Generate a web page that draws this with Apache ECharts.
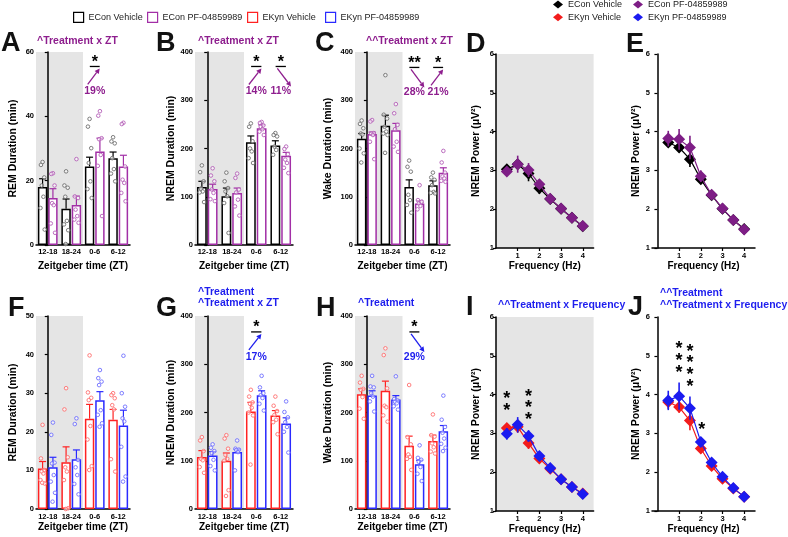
<!DOCTYPE html>
<html><head><meta charset="utf-8">
<script src="https://cdn.jsdelivr.net/npm/echarts@6/dist/echarts.min.js"></script>
<style>html,body{margin:0;padding:0;background:#fff}#c{width:788px;height:537px}</style>
</head><body><div id="c"></div>
<script>
// ---------------- DATA ----------------
const zt = ['12-18', '18-24', '0-6', '6-12'];
const darkBins = [0, 1];           // ZT bins in the dark phase (shaded)
const freq = [0.5, 1, 1.5, 2, 2.5, 3, 3.5, 4];

// A: REM, ECon
const remEConVehMean = [18.0, 11.3, 24.4, 27.0];
const remEConVehSem  = [2.6, 3.0, 2.9, 1.9];
const remEConPFMean  = [14.6, 12.4, 29.1, 24.4];
const remEConPFSem   = [2.9, 2.8, 4.1, 3.5];
const remEConVehPts  = [[25.8, 24.9, 21.0, 18.5, 15.0, 11.5, 4.8], [22.9, 18.5, 17.8, 15.0, 7.5, 6.4, 4.6, 0.3], [39.2, 36.8, 30.1, 25.5, 19.8, 17.4, 14.6], [33.5, 32.2, 31.6, 27.0, 23.6, 22.2, 19.8]];
const remEConPFPts   = [[22.3, 22.1, 18.5, 13.0, 12.4, 6.7, 3.8], [26.7, 15.1, 14.6, 11.0, 9.0, 7.9, 6.9], [41.6, 40.2, 33.2, 32.9, 28.0, 24.6, 9.0], [38.0, 37.6, 24.4, 20.3, 19.3, 16.2, 13.6]];
const remEConAnnots  = [{ bin: 2, y: 55.5, dir: 1, stars: '*', pct: '19%' }];

// B: NREM, ECon
const nremEConVehMean = [120, 101, 213, 206];
const nremEConVehSem  = [12, 17, 13, 10];
const nremEConPFMean  = [116, 108, 242, 185];
const nremEConPFSem   = [10, 10, 7, 7];
const nremEConVehPts  = [[165, 151, 132, 117, 111, 109, 89], [150, 132, 118, 111, 101, 87, 25], [252, 245, 215, 200, 194, 180, 170], [232, 228, 225, 204, 197, 187]];
const nremEConPFPts   = [[159, 144, 132, 115, 108, 95, 91], [148, 139, 115, 109, 94, 80, 61], [255, 253, 248, 245, 240, 235, 228], [204, 199, 188, 177, 170, 160, 149]];
const nremEConAnnots  = [{ bin: 2, y: 370, dir: 1, stars: '*', pct: '14%' }, { bin: 3, y: 370, dir: -1, stars: '*', pct: '11%' }];

// C: Wake, ECon
const wakeEConVehMean = [220, 247, 120, 124];
const wakeEConVehSem  = [11, 22, 15, 9];
const wakeEConPFMean  = [230, 238, 86, 150];
const wakeEConPFSem   = [4, 14, 6, 10];
const wakeEConVehPts  = [[258, 251, 242, 231, 229, 200, 190, 171], [352, 270, 262, 245, 235, 231, 228, 191], [175, 162, 152, 104, 93, 83, 67], [150, 140, 135, 124, 110, 108, 107]];
const wakeEConPFPts   = [[259, 256, 232, 231, 228, 214, 178], [292, 273, 249, 240, 214, 204, 193], [124, 93, 88, 86, 81, 74, 90], [195, 171, 150, 142, 138, 133, 131]];
const wakeEConAnnots  = [{ bin: 2, y: 368, dir: -1, stars: '**', pct: '28%' }, { bin: 3, y: 368, dir: 1, stars: '*', pct: '21%' }];

// F: REM, EKyn
const remEKynVehMean = [10.5, 12.1, 23.4, 23.1];
const remEKynVehSem  = [1.8, 4.0, 3.7, 2.7];
const remEKynPFMean  = [10.8, 12.9, 28.2, 21.6];
const remEKynPFSem   = [2.6, 2.4, 2.2, 4.0];
const remEKynVehPts  = [[21.8, 13.1, 10.1, 9.7, 9.2, 7.5, 6.6, 6.8], [31.3, 25.8, 13.4, 10.8, 9.7, 7.5, 0.2, 0], [39.8, 30.2, 28.8, 28.2, 21.5, 18.0, 11.1, 10.1], [30.0, 29.5, 28.7, 26.9, 25.8, 12.9, 9.7]];
const remEKynPFPts   = [[22.4, 19.2, 12.0, 11.8, 8.8, 7.1, 4.2, 1.9], [23.5, 22.0, 12.7, 10.8, 8.8, 6.5, 3.8], [36.0, 33.9, 33.0, 32.1, 25.6, 24.4, 22.2, 21.3], [39.7, 30.0, 26.5, 23.5, 22.7, 16.1, 8.4, 7.1]];
const remEKynAnnots  = [];

// G: NREM, EKyn
const nremEKynVehMean = [108, 100, 202, 194];
const nremEKynVehSem  = [13, 16, 19, 10];
const nremEKynPFMean  = [111, 118, 236, 177];
const nremEKynPFSem   = [8, 6, 9, 12];
const nremEKynVehPts  = [[149, 142, 120, 104, 101, 87, 75], [153, 146, 125, 112, 104, 100, 39, 27], [247, 233, 221, 218, 210, 200, 194, 92], [233, 214, 203, 195, 185, 180, 155]];
const nremEKynPFPts   = [[134, 127, 120, 116, 102, 89, 80], [142, 125, 123, 122, 118, 80], [276, 252, 240, 236, 230, 218, 204], [223, 201, 190, 180, 170, 160, 117]];
const nremEKynAnnots  = [{ bin: 2, y: 367, dir: 1, stars: '*', pct: '17%' }];

// H: Wake, EKyn
const wakeEKynVehMean = [238, 245, 131, 141];
const wakeEKynVehSem  = [11, 20, 20, 12];
const wakeEKynPFMean  = [235, 227, 93, 161];
const wakeEKynPFSem   = [10, 8, 8, 12];
const wakeEKynVehPts  = [[276, 262, 249, 247, 232, 208, 187], [333, 319, 250, 214, 211, 194, 181], [257, 149, 134, 113, 108, 104, 81], [196, 153, 150, 136, 128, 119, 115]];
const wakeEKynPFPts   = [[276, 254, 252, 240, 233, 223, 202], [275, 228, 225, 222, 219, 213, 206], [132, 106, 102, 98, 87, 73, 58], [235, 185, 170, 158, 146, 135, 127, 120]];
const wakeEKynAnnots  = [{ bin: 2, y: 367, dir: -1, stars: '*', pct: '29%' }];

// D/E/I/J: NREM power spectra
const darkEConVeh    = [3.03, 3.16, 2.92, 2.54, 2.26, 2.01, 1.78, 1.56];
const darkEConVehSem = [0.08, 0.10, 0.20, 0.15, 0.08, 0.06, 0.05, 0.05];
const darkEConPF     = [2.97, 3.16, 3.01, 2.64, 2.27, 2.02, 1.78, 1.57];
const darkEConPFSem  = [0.10, 0.22, 0.18, 0.12, 0.08, 0.06, 0.05, 0.05];
const lightEConVeh    = [3.72, 3.59, 3.29, 2.77, 2.36, 2.01, 1.72, 1.49];
const lightEConVehSem = [0.10, 0.12, 0.20, 0.12, 0.08, 0.06, 0.05, 0.05];
const lightEConPF     = [3.82, 3.80, 3.59, 2.85, 2.37, 2.02, 1.72, 1.48];
const lightEConPFSem  = [0.20, 0.27, 0.30, 0.15, 0.08, 0.06, 0.05, 0.05];
const darkEKynVeh    = [3.14, 3.17, 2.75, 2.35, 2.09, 1.82, 1.62, 1.45];
const darkEKynVehSem = [0.10, 0.15, 0.15, 0.10, 0.08, 0.06, 0.05, 0.05];
const darkEKynPF     = [2.99, 3.22, 2.93, 2.42, 2.11, 1.82, 1.62, 1.44];
const darkEKynPFSem  = [0.15, 0.20, 0.15, 0.10, 0.08, 0.06, 0.05, 0.05];
const lightEKynVeh    = [3.81, 3.68, 3.33, 2.61, 2.16, 1.83, 1.58, 1.37];
const lightEKynVehSem = [0.18, 0.15, 0.25, 0.12, 0.08, 0.06, 0.05, 0.05];
const lightEKynPF     = [3.85, 3.96, 3.65, 2.78, 2.25, 1.88, 1.59, 1.37];
const lightEKynPFSem  = [0.25, 0.35, 0.30, 0.12, 0.08, 0.07, 0.05, 0.05];
const darkEKynStars  = [[0.5, 3.98], [0.5, 3.68], [1.5, 4.04], [1.5, 3.75], [1.5, 3.46]];
const lightEKynStars = [[1, 5.27], [1, 4.97], [1, 4.67], [1.5, 5.21], [1.5, 4.91], [1.5, 4.61], [1.5, 4.31], [2.05, 3.2]];

// ---------------- STYLE ----------------
const FONT = '"Liberation Sans", Arial, Helvetica, sans-serif';
const COL = {
  econVeh: '#000000', econPF: '#A22FA6', ekynVeh: '#FF2222', ekynPF: '#2A2AFF',
  ptEconVeh: '#707070', ptEconPF: '#B560B8', ptEkynVeh: '#FF7070', ptEkynPF: '#7070FF',
  txtPurple: '#8E1E8E', txtBlue: '#1E1EEE',
  mkEconVeh: '#000000', mkEconPF: '#7E1E86', mkEkynVeh: '#F21C1C', mkEkynPF: '#1B1BF0',
  shade: '#E5E5E5'
};
const JITTER = [0, -0.07, 0.07, -0.035, 0.035, -0.09, 0.09, -0.015];

const grids = [], xAxes = [], yAxes = [], series = [];

function axisCommon() {
  return {
    axisLine: { show: true, lineStyle: { color: '#000', width: 1.5 } },
    splitLine: { show: false },
    nameTextStyle: { fontFamily: FONT, fontWeight: 'bold', fontSize: 10.5, color: '#000' },
    axisLabel: { fontFamily: FONT, fontWeight: 'bold', fontSize: 7.5, color: '#000' }
  };
}

function barPanel(p) {
  const gi = grids.length;
  grids.push({ left: p.left, top: p.top, width: p.width, height: p.height });
  const xc = xAxes.length;
  xAxes.push(Object.assign(axisCommon(), {
    type: 'category', gridIndex: gi, data: zt, axisTick: { show: false },
    name: 'Zeitgeber time (ZT)', nameLocation: 'middle', nameGap: p.xGap,
    nameTextStyle: { fontFamily: FONT, fontWeight: 'bold', fontSize: 10, color: '#000' },
    axisLabel: { fontFamily: FONT, fontWeight: 'bold', fontSize: 7.5, color: '#000', margin: p.xLabMargin, interval: 0 }
  }));
  const xv = xAxes.length;
  xAxes.push({ type: 'value', gridIndex: gi, min: -0.5, max: 3.5, show: false });
  const yi = yAxes.length;
  yAxes.push(Object.assign(axisCommon(), {
    type: 'value', gridIndex: gi, min: 0, max: p.ymax, interval: p.yint,
    name: p.yname, nameLocation: 'middle', nameGap: p.nameGap,
    axisTick: { show: true, length: 3, lineStyle: { color: '#000', width: 1.2 } },
    axisLabel: { fontFamily: FONT, fontWeight: 'bold', fontSize: 7.5, color: '#000', margin: 2 }
  }));
  // dark phase shading
  series.push({
    type: 'custom', xAxisIndex: xv, yAxisIndex: yi, z: 0, silent: true,
    data: [[darkBins[0] - 0.5, darkBins[darkBins.length - 1] + 0.5, p.ymax]],
    renderItem: (params, api) => {
      const a = api.coord([api.value(0), api.value(2)]);
      const b = api.coord([api.value(1), 0]);
      return { type: 'rect', shape: { x: a[0], y: a[1], width: b[0] - a[0], height: b[1] - a[1] }, style: { fill: COL.shade } };
    }
  });
  p.groups.forEach((g, s) => {
    series.push({
      type: 'bar', name: g.name, xAxisIndex: xc, yAxisIndex: yi, data: g.mean, z: 2, silent: true,
      barCategoryGap: '16%', barGap: '10%',
      itemStyle: { color: '#ffffff', borderColor: g.color, borderWidth: 1.5 }
    });
  });
  p.groups.forEach((g, s) => {
    const off = s === 0 ? -0.22 : 0.22;
    // error bars (SEM, upward)
    series.push({
      type: 'custom', xAxisIndex: xv, yAxisIndex: yi, z: 3, silent: true,
      data: g.mean.map((m, i) => [i + off, m, g.sem[i]]),
      renderItem: (params, api) => {
        const x = api.value(0), m = api.value(1), e = api.value(2);
        const p0 = api.coord([x, m]), p1 = api.coord([x, m + e]);
        return { type: 'group', children: [
          { type: 'line', shape: { x1: p0[0], y1: p0[1], x2: p1[0], y2: p1[1] }, style: { stroke: g.color, lineWidth: 1.2 } },
          { type: 'line', shape: { x1: p1[0] - 3.5, y1: p1[1], x2: p1[0] + 3.5, y2: p1[1] }, style: { stroke: g.color, lineWidth: 1.2 } }
        ] };
      }
    });
    // individual animals
    const pts = [];
    g.pts.forEach((arr, i) => arr.forEach((v, j) => pts.push([i + off + JITTER[j % JITTER.length], v])));
    series.push({
      type: 'scatter', xAxisIndex: xv, yAxisIndex: yi, z: 4, silent: true, data: pts,
      symbol: 'circle', symbolSize: 3.6,
      itemStyle: { color: 'rgba(255,255,255,0.6)', borderColor: g.pt, borderWidth: 1, opacity: 0.9 }
    });
  });
  // post-hoc annotations
  if (p.annots.length) {
    series.push({
      type: 'custom', xAxisIndex: xv, yAxisIndex: yi, z: 5, silent: true,
      data: p.annots.map(a => [a.bin, a.y]),
      renderItem: (params, api) => {
        const a = p.annots[params.dataIndex];
        const c = api.coord([api.value(0), api.value(1)]);
        const W = api.size([1, 0])[0];
        const y = c[1];
        const xl = c[0] - 0.21 * W, xr = c[0] + 0.21 * W;
        let ax1, ay1, ax2, ay2;
        if (a.dir > 0) { ax1 = c[0] - 0.3 * W; ay1 = y + 18; ax2 = xr; ay2 = y + 2; }
        else { ax1 = c[0] - 0.14 * W; ay1 = y + 2; ax2 = c[0] + 0.42 * W; ay2 = y + 20; }
        const ang = Math.atan2(ay2 - ay1, ax2 - ax1);
        const hl = 5, hw = 2.6;
        const bx = ax2 - hl * Math.cos(ang), by = ay2 - hl * Math.sin(ang);
        const head = [[ax2, ay2], [bx - hw * Math.sin(ang), by + hw * Math.cos(ang)], [bx + hw * Math.sin(ang), by - hw * Math.cos(ang)]];
        return { type: 'group', children: [
          { type: 'line', shape: { x1: xl, y1: y, x2: xr, y2: y }, style: { stroke: '#000', lineWidth: 1.3 } },
          { type: 'line', shape: { x1: ax1, y1: ay1, x2: bx, y2: by }, style: { stroke: p.annColor, lineWidth: 1.3 } },
          { type: 'polygon', shape: { points: head }, style: { fill: p.annColor } },
          { type: 'text', x: c[0], y: y - 4, style: { text: a.stars, align: 'center', verticalAlign: 'middle', fill: '#000', font: 'bold 16px ' + FONT } },
          { type: 'text', x: c[0], y: y + 25, style: { text: a.pct, align: 'center', verticalAlign: 'middle', fill: p.annColor, font: 'bold 10.5px ' + FONT } }
        ] };
      }
    });
  }
}

function linePanel(p) {
  const gi = grids.length;
  grids.push({ left: p.left, top: p.top, width: p.width, height: p.height,
    show: p.shade, backgroundColor: p.shade ? COL.shade : 'transparent', borderWidth: 0 });
  const xi = xAxes.length;
  xAxes.push(Object.assign(axisCommon(), {
    type: 'value', gridIndex: gi, min: p.xmin, max: 4.5,
    name: 'Frequency (Hz)', nameLocation: 'middle', nameGap: p.xGap,
    nameTextStyle: { fontFamily: FONT, fontWeight: 'bold', fontSize: 10, color: '#000' },
    axisTick: { show: true, length: 3, customValues: [1, 2, 3, 4], lineStyle: { color: '#000', width: 1.2 } },
    axisLabel: { fontFamily: FONT, fontWeight: 'bold', fontSize: 7.5, color: '#000', margin: 4, customValues: [1, 2, 3, 4] }
  }));
  const yi = yAxes.length;
  yAxes.push(Object.assign(axisCommon(), {
    type: 'value', gridIndex: gi, min: 1, max: 6, interval: 1,
    name: 'NREM Power (\u03bcV\u00b2)', nameLocation: 'middle', nameGap: p.nameGap,
    axisTick: { show: true, length: 3, lineStyle: { color: '#000', width: 1.2 } },
    axisLabel: { fontFamily: FONT, fontWeight: 'bold', fontSize: 7.5, color: '#000', margin: 2 }
  }));
  p.groups.forEach((g, s) => {
    series.push({
      type: 'custom', xAxisIndex: xi, yAxisIndex: yi, z: 2 + s * 2, silent: true,
      data: freq.map((f, i) => [f, g.mean[i], g.sem[i]]),
      renderItem: (params, api) => {
        const x = api.value(0), m = api.value(1), e = api.value(2);
        const a = api.coord([x, m - e]), b = api.coord([x, m + e]);
        return { type: 'line', shape: { x1: a[0], y1: a[1], x2: b[0], y2: b[1] }, style: { stroke: g.color, lineWidth: 1.6 } };
      }
    });
    series.push({
      type: 'line', name: g.name, xAxisIndex: xi, yAxisIndex: yi, z: 3 + s * 2, silent: true,
      data: freq.map((f, i) => [f, g.mean[i]]),
      symbol: 'diamond', symbolSize: 12, showSymbol: true,
      lineStyle: { color: g.color, width: 1.2 }, itemStyle: { color: g.color }
    });
  });
  if (p.stars && p.stars.length) {
    series.push({
      type: 'custom', xAxisIndex: xi, yAxisIndex: yi, z: 8, silent: true, data: p.stars,
      renderItem: (params, api) => {
        const c = api.coord([api.value(0), api.value(1)]);
        return { type: 'text', x: c[0], y: c[1] + 4, style: { text: '*', align: 'center', verticalAlign: 'middle', fill: '#000', font: 'bold 18px ' + FONT } };
      }
    });
  }
}

const gEConVeh = (mean, sem, pts) => ({ name: 'ECon Vehicle', mean, sem, pts, color: COL.econVeh, pt: COL.ptEconVeh });
const gEConPF  = (mean, sem, pts) => ({ name: 'ECon PF-04859989', mean, sem, pts, color: COL.econPF, pt: COL.ptEconPF });
const gEKynVeh = (mean, sem, pts) => ({ name: 'EKyn Vehicle', mean, sem, pts, color: COL.ekynVeh, pt: COL.ptEkynVeh });
const gEKynPF  = (mean, sem, pts) => ({ name: 'EKyn PF-04859989', mean, sem, pts, color: COL.ekynPF, pt: COL.ptEkynPF });

barPanel({ left: 36, top: 52, width: 94, height: 193, ymax: 60, yint: 20, yname: 'REM Duration (min)', nameGap: 17, xGap: 16, xLabMargin: 3,
  groups: [gEConVeh(remEConVehMean, remEConVehSem, remEConVehPts), gEConPF(remEConPFMean, remEConPFSem, remEConPFPts)], annots: remEConAnnots, annColor: COL.txtPurple });
barPanel({ left: 195, top: 52, width: 98, height: 193, ymax: 400, yint: 100, yname: 'NREM Duration (min)', nameGap: 16, xGap: 16, xLabMargin: 3,
  groups: [gEConVeh(nremEConVehMean, nremEConVehSem, nremEConVehPts), gEConPF(nremEConPFMean, nremEConPFSem, nremEConPFPts)], annots: nremEConAnnots, annColor: COL.txtPurple });
barPanel({ left: 355, top: 52, width: 95, height: 193, ymax: 400, yint: 100, yname: 'Wake Duration (min)', nameGap: 21, xGap: 16, xLabMargin: 3,
  groups: [gEConVeh(wakeEConVehMean, wakeEConVehSem, wakeEConVehPts), gEConPF(wakeEConPFMean, wakeEConPFSem, wakeEConPFPts)], annots: wakeEConAnnots, annColor: COL.txtPurple });
barPanel({ left: 36, top: 316, width: 94, height: 193, ymax: 50, yint: 10, yname: 'REM Duration (min)', nameGap: 17, xGap: 12, xLabMargin: 4,
  groups: [gEKynVeh(remEKynVehMean, remEKynVehSem, remEKynVehPts), gEKynPF(remEKynPFMean, remEKynPFSem, remEKynPFPts)], annots: remEKynAnnots, annColor: COL.txtBlue });
barPanel({ left: 195, top: 316, width: 98, height: 193, ymax: 400, yint: 100, yname: 'NREM Duration (min)', nameGap: 16, xGap: 12, xLabMargin: 4,
  groups: [gEKynVeh(nremEKynVehMean, nremEKynVehSem, nremEKynVehPts), gEKynPF(nremEKynPFMean, nremEKynPFSem, nremEKynPFPts)], annots: nremEKynAnnots, annColor: COL.txtBlue });
barPanel({ left: 355, top: 316, width: 95, height: 193, ymax: 400, yint: 100, yname: 'Wake Duration (min)', nameGap: 21, xGap: 12, xLabMargin: 4,
  groups: [gEKynVeh(wakeEKynVehMean, wakeEKynVehSem, wakeEKynVehPts), gEKynPF(wakeEKynPFMean, wakeEKynPFSem, wakeEKynPFPts)], annots: wakeEKynAnnots, annColor: COL.txtBlue });

linePanel({ left: 496, top: 54, width: 97.6, height: 194, xmin: 0, shade: true, nameGap: 14, xGap: 13,
  groups: [{ name: 'ECon Vehicle', mean: darkEConVeh, sem: darkEConVehSem, color: COL.mkEconVeh }, { name: 'ECon PF-04859989', mean: darkEConPF, sem: darkEConPFSem, color: COL.mkEconPF }] });
linePanel({ left: 652, top: 54, width: 103, height: 194, xmin: -0.25, shade: false, nameGap: 9, xGap: 13,
  groups: [{ name: 'ECon Vehicle', mean: lightEConVeh, sem: lightEConVehSem, color: COL.mkEconVeh }, { name: 'ECon PF-04859989', mean: lightEConPF, sem: lightEConPFSem, color: COL.mkEconPF }] });
linePanel({ left: 496, top: 317, width: 97.6, height: 194, xmin: 0, shade: true, nameGap: 14, xGap: 12, stars: darkEKynStars,
  groups: [{ name: 'EKyn Vehicle', mean: darkEKynVeh, sem: darkEKynVehSem, color: COL.mkEkynVeh }, { name: 'EKyn PF-04859989', mean: darkEKynPF, sem: darkEKynPFSem, color: COL.mkEkynPF }] });
linePanel({ left: 652, top: 317, width: 103, height: 194, xmin: -0.25, shade: false, nameGap: 9, xGap: 12, stars: lightEKynStars,
  groups: [{ name: 'EKyn Vehicle', mean: lightEKynVeh, sem: lightEKynVehSem, color: COL.mkEkynVeh }, { name: 'EKyn PF-04859989', mean: lightEKynPF, sem: lightEKynPFSem, color: COL.mkEkynPF }] });

// ---------------- LEGENDS ----------------
const legTxt = { fontFamily: FONT, fontSize: 9, color: '#222' };
const legends = [];
[['ECon Vehicle', COL.econVeh, 73], ['ECon PF-04859989', COL.econPF, 147], ['EKyn Vehicle', COL.ekynVeh, 247], ['EKyn PF-04859989', COL.ekynPF, 325]].forEach(([n, c, l]) => {
  legends.push({ left: l, top: 11.7, padding: 0, itemWidth: 10, itemHeight: 10, selectedMode: false, textStyle: legTxt,
    data: [{ name: n, icon: 'rect', itemStyle: { color: '#fff', borderColor: c, borderWidth: 1.2 } }] });
});
[['ECon Vehicle', COL.mkEconVeh, 553, 0], ['ECon PF-04859989', COL.mkEconPF, 633, 0], ['EKyn Vehicle', COL.mkEkynVeh, 553, 12.7], ['EKyn PF-04859989', COL.mkEkynPF, 633, 12.7]].forEach(([n, c, l, t]) => {
  legends.push({ left: l, top: t, padding: 0, itemWidth: 10, itemHeight: 8, selectedMode: false, textStyle: legTxt,
    data: [{ name: n, icon: 'diamond', itemStyle: { color: c, borderWidth: 0 } }] });
});

// ---------------- TEXT ----------------
const letter = (t, x, y) => ({ type: 'text', x, y, silent: true, style: { text: t, font: 'bold 27px ' + FONT, fill: '#111', align: 'left', verticalAlign: 'middle' } });
const stat = (t, x, y, c) => ({ type: 'text', x, y, silent: true, style: { text: t, font: 'bold 10.5px ' + FONT, fill: c, align: 'left', verticalAlign: 'middle' } });
const graphics = [
  letter('A', 1, 44), letter('B', 156, 44), letter('C', 315, 44), letter('D', 466, 45), letter('E', 626, 45),
  letter('F', 8, 309), letter('G', 156, 309), letter('H', 316, 309), letter('I', 466, 308), letter('J', 628, 308),
  stat('^Treatment x ZT', 37, 41.5, COL.txtPurple),
  stat('^Treatment x ZT', 198, 41.5, COL.txtPurple),
  stat('^^Treatment x ZT', 366, 41.5, COL.txtPurple),
  stat('^Treatment', 198, 292.5, COL.txtBlue),
  stat('^Treatment x ZT', 198, 303.5, COL.txtBlue),
  stat('^Treatment', 358, 303.5, COL.txtBlue),
  stat('^^Treatment x Frequency', 498, 305, COL.txtBlue),
  stat('^^Treatment', 660, 293.5, COL.txtBlue),
  stat('^^Treatment x Frequency', 660, 305, COL.txtBlue)
];

const chart = echarts.init(document.getElementById('c'), null, { renderer: 'canvas' });
chart.setOption({
  animation: false,
  backgroundColor: '#ffffff',
  textStyle: { fontFamily: FONT },
  grid: grids, xAxis: xAxes, yAxis: yAxes, series, legend: legends, graphic: graphics
});
</script></body></html>
